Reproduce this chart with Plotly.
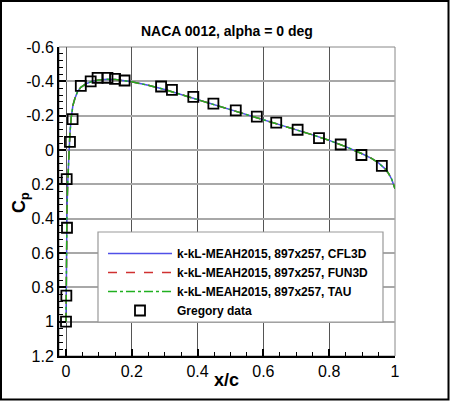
import plotly.graph_objects as go

# CFD surface pressure (the three codes overlap)
cfd_x = [0.0, 0.0005, 0.001, 0.002, 0.003, 0.005, 0.007, 0.009, 0.012, 0.016, 0.021,
         0.027, 0.035, 0.045, 0.06, 0.08, 0.1, 0.125, 0.15, 0.2, 0.25, 0.3, 0.35, 0.4,
         0.45, 0.5, 0.55, 0.6, 0.65, 0.7, 0.75, 0.8, 0.85, 0.9, 0.93, 0.95, 0.97, 0.98,
         0.99, 1.0]
cfd_cp = [1.0, 0.85, 0.7, 0.5, 0.35, 0.2, 0.1, 0.0, -0.1, -0.19, -0.26,
          -0.30, -0.34, -0.365, -0.385, -0.40, -0.408, -0.412, -0.41, -0.397, -0.377,
          -0.352, -0.323, -0.293, -0.262, -0.233, -0.205, -0.177, -0.148, -0.118,
          -0.088, -0.056, -0.02, 0.022, 0.05, 0.075, 0.11, 0.135, 0.17, 0.226]

# Gregory experimental data
exp_x = [0.0, 0.001, 0.003, 0.002, 0.012, 0.02, 0.045, 0.075, 0.096, 0.126, 0.149,
         0.178, 0.289, 0.322, 0.387, 0.448, 0.516, 0.58, 0.639, 0.704, 0.769, 0.835,
         0.898, 0.96]
exp_cp = [1.0, 0.848, 0.453, 0.17, -0.047, -0.18, -0.373, -0.40, -0.42, -0.42, -0.414,
          -0.405, -0.37, -0.35, -0.31, -0.27, -0.231, -0.194, -0.16, -0.118, -0.069,
          -0.032, 0.029, 0.093]

x_tickvals = [0, 0.2, 0.4, 0.6, 0.8, 1.0]
x_ticktext = ["0", "0.2", "0.4", "0.6", "0.8", "1"]
y_tickvals = [-0.6, -0.4, -0.2, 0, 0.2, 0.4, 0.6, 0.8, 1.0, 1.2]
y_ticktext = ["-0.6", "-0.4", "-0.2", "0", "0.2", "0.4", "0.6", "0.8", "1", "1.2"]

series_names = ["k-kL-MEAH2015, 897x257, CFL3D",
                "k-kL-MEAH2015, 897x257, FUN3D",
                "k-kL-MEAH2015, 897x257, TAU"]
series_colors = ["#5050e8", "#d03030", "#20b020"]
series_dash = ["solid", "dash", "dashdot"]

FONT = "Liberation Sans, Arial, Helvetica, sans-serif"

fig = go.Figure()
for name, col, dash in zip(series_names, series_colors, series_dash):
    fig.add_trace(go.Scatter(x=cfd_x, y=cfd_cp, mode="lines", name=name,
                             line=dict(color=col, width=1.5, dash=dash)))
fig.add_trace(go.Scatter(x=exp_x, y=exp_cp, mode="markers", name="Gregory data",
                         marker=dict(symbol="square-open", size=10, color="black",
                                     line=dict(color="black", width=1.8))))

L, R, T, B = 59, 55, 47, 45
W, H = 450, 401
pw, ph = W - L - R, H - T - B

def px(xp):
    return (xp - L) / pw

def py(yp):
    return (H - B - yp) / ph

fig.update_layout(
    width=W, height=H,
    margin=dict(l=L, r=R, t=T, b=B),
    paper_bgcolor="white", plot_bgcolor="white",
    font=dict(family=FONT, color="black"),
    showlegend=True,
    legend=dict(x=px(103), y=py(239), xanchor="left", yanchor="top",
                bgcolor="rgba(0,0,0,0)", borderwidth=0, itemwidth=64,
                font=dict(size=12, family=FONT, weight="bold"),
                tracegroupgap=0),
    xaxis=dict(range=[-0.0213, 1.0], tickvals=x_tickvals, ticktext=x_ticktext,
               ticks="inside", ticklen=7, tickwidth=1.5, tickcolor="black",
               showline=True, linecolor="black", linewidth=2,
               showgrid=True, gridcolor="#555555", gridwidth=1, zeroline=False,
               tickfont=dict(size=16, family=FONT),
               minor=dict(dtick=0.05, tick0=0, ticks="inside", ticklen=4,
                          tickcolor="black", tickwidth=1, showgrid=False)),
    yaxis=dict(range=[1.2, -0.6], tickvals=y_tickvals, ticktext=y_ticktext,
               ticks="inside", ticklen=7, tickwidth=1.5, tickcolor="black",
               showline=True, linecolor="black", linewidth=2,
               showgrid=True, gridcolor="#a8a8a8", gridwidth=2, zeroline=False,
               tickfont=dict(size=16, family=FONT),
               minor=dict(dtick=0.04, tick0=0, ticks="inside", ticklen=4,
                          tickcolor="black", tickwidth=1, showgrid=False)),
    shapes=[
        dict(type="rect", xref="paper", yref="paper", x0=0, x1=1, y0=0, y1=1,
             line=dict(color="#888888", width=1), layer="below"),
        dict(type="rect", xref="paper", yref="paper", x0=px(98), x1=px(383),
             y0=py(322), y1=py(232), line=dict(color="#999999", width=1.2),
             fillcolor="white", layer="above"),
        dict(type="rect", xref="paper", yref="paper", x0=px(1), x1=px(448.5),
             y0=py(399.5), y1=py(1), line=dict(color="black", width=2)),
    ],
    annotations=[
        dict(text="<b>NACA 0012, alpha = 0 deg</b>", xref="paper", yref="paper",
             x=px(227), y=py(31), showarrow=False, xanchor="center",
             yanchor="middle", font=dict(size=14, family=FONT)),
        dict(text="<b>x/c</b>", xref="paper", yref="paper", x=px(226), y=py(380),
             showarrow=False, xanchor="center", yanchor="middle",
             font=dict(size=18, family=FONT)),
        dict(text="<b>C<sub>p</sub></b>", xref="paper", yref="paper", x=px(20),
             y=py(203), showarrow=False, xanchor="center", yanchor="middle",
             textangle=-90, font=dict(size=18, family=FONT)),
    ],
)

fig.write_html("out.html", config={"displayModeBar": False},
               post_script="document.body.style.margin='0';document.body.style.padding='0';")
